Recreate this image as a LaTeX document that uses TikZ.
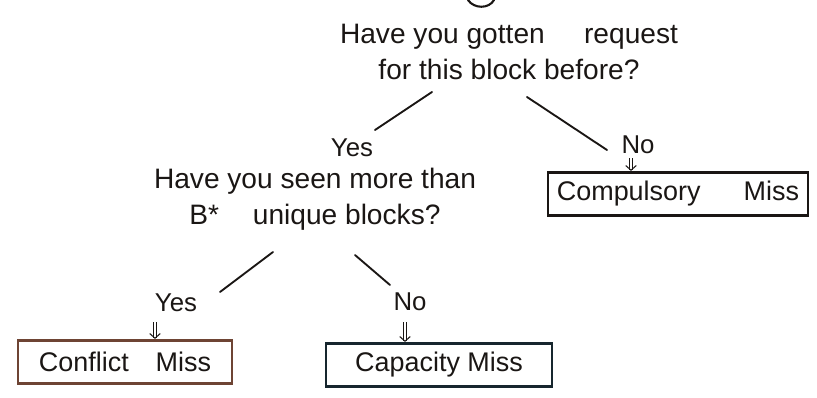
\documentclass[tikz,border=0pt]{standalone}
\usepackage{fontspec}
\setmainfont{Liberation Sans}
\usetikzlibrary{arrows.meta}
\definecolor{ink}{HTML}{1A1614}
\definecolor{brownink}{HTML}{6E4434}
\definecolor{blueink}{HTML}{17262E}
\tikzset{
  px/.style={x=0.03cm,y=-0.03cm},
  question/.style={align=center,font=\fontsize{24}{31}\selectfont,text=ink,inner sep=0pt},
  answer/.style={font=\fontsize{22}{24}\selectfont,text=ink,inner sep=0pt},
  outcome/.style={draw,line width=2.4pt,minimum height=1.3cm,font=\fontsize{23}{24}\selectfont,text=ink,inner sep=0pt},
  branch/.style={draw=ink,line width=1.6pt,line cap=round},
  pointer/.style={draw=ink,line width=0.9pt,-{Straight Barb[length=4pt,width=9pt]},double distance=1.8pt}
}
\begin{document}
\begin{tikzpicture}[px]
  \useasboundingbox (0,0) rectangle (817,398);
  % stroke left over at the top edge
  \draw[ink,line width=1.8pt,line cap=round] (468,0) .. controls (474,9) and (489,9) .. (494,0);

  % first question
  \node[question] (q1) at (509,52) {Have you gotten\hspace{1.4em}request\\for this block before?};
  \coordinate (q1l) at (432,92);
  \coordinate (q1r) at (527,97);
  \coordinate (q1lend) at (375,130);
  \coordinate (q1rend) at (607,150);
  \draw[branch] (q1l) -- (q1lend);
  \draw[branch] (q1r) -- (q1rend);

  \node[answer] (yes1) at (352,148) {Yes};
  \node[answer] (no1) at (638,145) {No};

  % compulsory miss
  \node[outcome,draw=ink,minimum width=7.8cm] (comp) at (678,194) {Compulsory\hspace{1.6em}Miss};
  \coordinate (p1) at (631,158);
  \draw[pointer] (p1) -- (p1 |- comp.north);

  % second question
  \node[question] (q2) at (315,199) {Have you seen more than\\B*\hspace{1.2em}unique blocks?};
  \coordinate (q2l) at (273,252);
  \coordinate (q2r) at (355,255);
  \coordinate (q2lend) at (220,292);
  \coordinate (q2rend) at (390,285);
  \draw[branch] (q2l) -- (q2lend);
  \draw[branch] (q2r) -- (q2rend);

  \node[answer] (yes2) at (176,303) {Yes};
  \node[answer] (no2) at (410,302) {No};

  % conflict and capacity misses
  \node[outcome,draw=brownink,minimum width=6.42cm] (conf) at (125,362) {Conflict\hspace{1em}Miss};
  \node[outcome,draw=blueink,minimum width=6.78cm] (cap) at (439,365) {Capacity Miss};

  \coordinate (p2) at (155,322);
  \coordinate (p3) at (405,322);
  \draw[pointer] (p2) -- (p2 |- conf.north);
  \draw[pointer] (p3) -- (p3 |- cap.north);
\end{tikzpicture}
\end{document}
